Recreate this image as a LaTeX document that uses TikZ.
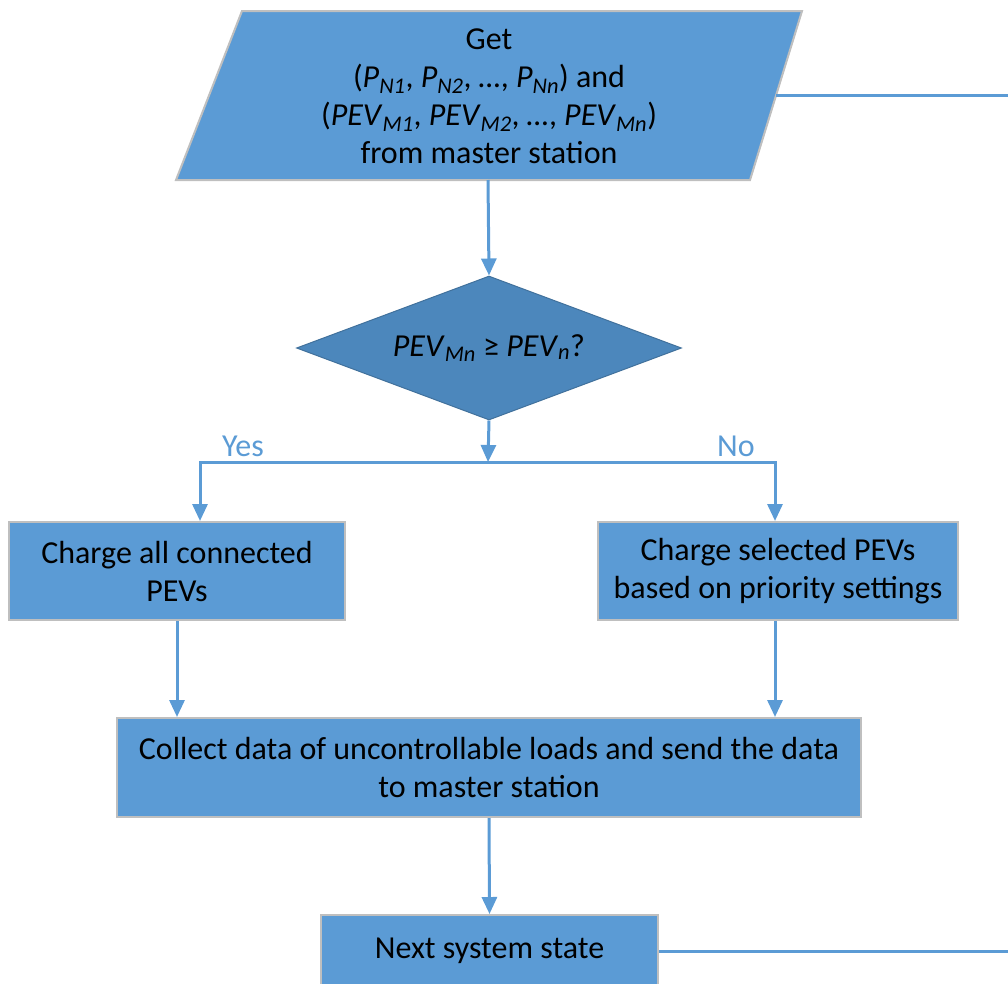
\documentclass[tikz,border=0pt]{standalone}
\usepackage{fontspec}
\setmainfont{Carlito}
\usetikzlibrary{arrows.meta,shapes.geometric}
\definecolor{boxblue}{HTML}{5B9BD5}
\definecolor{diablue}{HTML}{4C87BC}
\definecolor{diaborder}{HTML}{41719C}
\definecolor{edgegray}{HTML}{BFBFBF}
\tikzset{
  procbox/.style={draw=edgegray, line width=2pt, fill=boxblue, align=center, inner sep=0pt,
    font=\fontsize{32}{38}\selectfont},
  conn/.style={draw=boxblue, line width=3pt},
  arr/.style={conn, -{Triangle[length=17pt,width=15pt]}},
  lbl/.style={text=boxblue, font=\fontsize{32}{38}\selectfont, inner sep=0pt},
}
\begin{document}
\begin{tikzpicture}[x=1pt,y=-1pt]
\useasboundingbox (0,0) rectangle (1008,983);
% parallelogram
\draw[draw=edgegray, line width=2pt, fill=boxblue] (242,11) -- (802,11) -- (750,180) -- (176,180) -- cycle;
\node[align=center, font=\fontsize{32}{38}\selectfont, inner sep=0pt] (get) at (489,96)
 {Get\\(\textit{P}\textsubscript{\textit{N1}}, \textit{P}\textsubscript{\textit{N2}}, \textit{…}, \textit{P}\textsubscript{\textit{Nn}}) and\\(\textit{PEV}\textsubscript{\textit{M1}}, \textit{PEV}\textsubscript{\textit{M2}}, \textit{…}, \textit{PEV}\textsubscript{\textit{Mn}})\\from master station};
\coordinate (getS) at (488,180);
\coordinate (getE) at (776,95);
\coordinate (outA) at (1012,95);
% diamond
\node[diamond, draw=diaborder, line width=1pt, fill=diablue, minimum width=385pt, minimum height=144pt, inner sep=0pt, aspect=2.67,
  font=\fontsize{32}{38}\selectfont] (dec) at (489,348) {\textit{PEV}\textsubscript{\textit{Mn}} ≥ \textit{PEV}\textsubscript{\textit{n}}?};
\coordinate (j) at (488,462);
\coordinate (yl) at (200,462);
\coordinate (nr) at (775,462);
\node[lbl] (yes) at (243,446) {Yes};
\node[lbl] (no) at (736,446) {No};
% boxes
\node[procbox, minimum width=336pt, minimum height=98pt] (lbox) at (177,571) {Charge all connected\\PEVs};
\node[procbox, minimum width=360pt, minimum height=98pt] (rbox) at (778,571) {Charge selected PEVs\\based on priority settings};
\node[procbox, minimum width=744pt, minimum height=99pt] (col) at (489,767.5) {Collect data of uncontrollable loads and send the data\\to master station};
\node[procbox, minimum width=337pt, minimum height=72pt] (next) at (489.5,951) {Next system state};
\coordinate (outB) at (1012,951);
% connectors
\draw[arr] (getS) -- (dec.north);
\draw[arr] (dec.south) -- (j);
\draw[arr] (j) -- (yl) -- (yl |- lbox.north);
\draw[arr] (j) -- (nr) -- (nr |- rbox.north);
\draw[arr] (lbox.south) -- (lbox.south |- col.north);
\draw[arr] (nr |- rbox.south) -- (nr |- col.north);
\draw[arr] (col.south) -- (next.north);
\draw[conn] (getE) -- (outA);
\draw[conn] (next.east) -- (outB);
\end{tikzpicture}
\end{document}
